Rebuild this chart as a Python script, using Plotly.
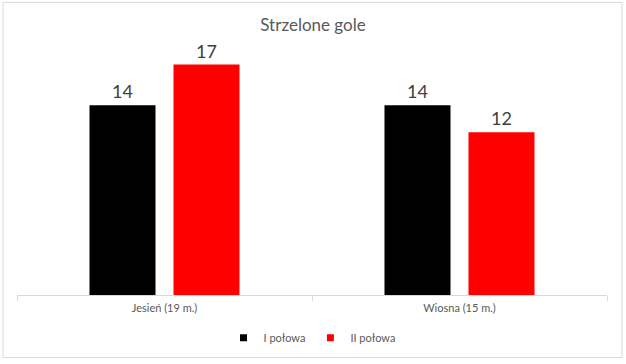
import plotly.graph_objects as go

categories = ["Jesień (19 m.)", "Wiosna (15 m.)"]
series_names = ["I połowa", "II połowa"]
first_half = [14, 14]
second_half = [17, 12]
colors = ["#000000", "#FF0000"]

W, H = 626, 364
L, R, T, B = 17, 19, 51, 67
PH = H - T - B
FONT = "Lato"

fig = go.Figure()
for name, vals, col in zip(series_names, [first_half, second_half], colors):
    fig.add_trace(go.Bar(
        x=categories, y=vals, name=name, showlegend=False,
        marker=dict(color=col, line=dict(width=0)),
        text=[str(v) for v in vals], textposition="outside",
        textfont=dict(size=18, color="#404040", family=FONT),
        cliponaxis=False,
    ))
# legend entries (small square keys)
for name, col in zip(series_names, colors):
    fig.add_trace(go.Scatter(
        x=[None], y=[None], mode="markers", name=name,
        marker=dict(symbol="square", size=7, color=col),
    ))

fig.update_layout(
    width=W, height=H,
    margin=dict(l=L, r=R, t=T, b=B),
    paper_bgcolor="white", plot_bgcolor="white",
    barmode="group", bargap=0.4305, bargroupgap=0.214,
    title=dict(text="Strzelone gole", x=0.5, xanchor="center", y=1 - 25 / H, yanchor="middle",
               font=dict(size=17, color="#595959", family=FONT)),
    font=dict(family=FONT, color="#595959"),
    xaxis=dict(showline=True, linecolor="#D9D9D9", linewidth=1, ticks="outside",
               tickson="boundaries", tickcolor="#D9D9D9", ticklen=5,
               tickfont=dict(size=11, color="#595959", family=FONT), showgrid=False,
               ticklabelstandoff=3),
    yaxis=dict(range=[0, 18], visible=False, showgrid=False),
    legend=dict(orientation="h", x=0.5, xanchor="center", y=-(340 - 297) / PH, yanchor="middle",
                font=dict(size=11, color="#595959", family=FONT), itemwidth=30,
                tracegroupgap=0),
    showlegend=True,
)
fig.add_shape(type="rect", xref="paper", yref="paper",
              x0=-(L - 3) / (W - L - R), x1=1 + (R - 4) / (W - L - R),
              y0=-(360 - 297) / PH, y1=1 + (T - 2) / PH,
              line=dict(color="#D9D9D9", width=1), fillcolor="rgba(0,0,0,0)", layer="below")
fig.write_html("out.html", post_script="document.body.style.margin='0';",
               config={"displayModeBar": False})
